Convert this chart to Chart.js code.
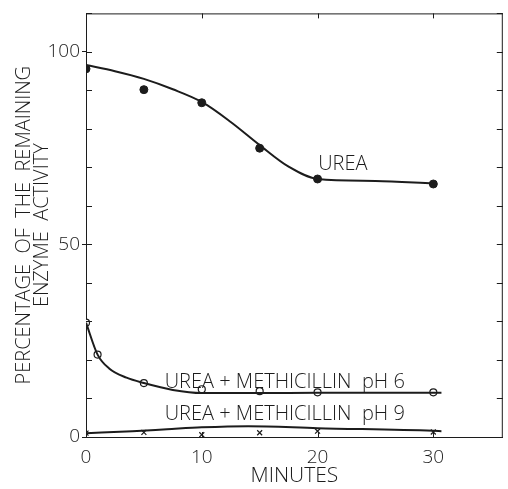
<!DOCTYPE html>
<html>
<head>
<meta charset="utf-8">
<script src="https://cdn.jsdelivr.net/npm/chart.js@4.4.1/dist/chart.umd.min.js"></script>
<style>
  html, body { margin: 0; padding: 0; background: #fff; }
  #wrap { position: relative; width: 508px; height: 489px; }
</style>
</head>
<body>
<div id="wrap"><canvas id="enzymeChart"></canvas></div>
<script>
// measured points
const ureaMin = [0, 5, 10, 15, 20, 30];
const ureaVal = [95.6, 90.2, 86.8, 75, 67, 65.7];
const ph6Min = [0, 1, 5, 10, 15, 20, 30];
const ph6Val = [29.7, 21.4, 14, 12.4, 11.9, 11.6, 11.6];
const ph9Min = [0, 5, 10, 15, 20, 30];
const ph9Val = [1, 1.2, 0.6, 1.1, 1.5, 1.3];

// hand-drawn fitted curves
const ureaCurveMin = [0, 2.5, 5, 7.5, 10, 12.5, 15, 17.5, 20, 25, 30];
const ureaCurveVal = [96.6, 95, 93, 90.3, 87, 81.8, 75.8, 70.2, 67, 66.5, 65.8];
const ph6CurveMin = [0, 1, 2, 3.5, 5, 7.5, 10, 15, 20, 30, 30.7];
const ph6CurveVal = [29.7, 21.4, 17.8, 15.4, 14, 12.2, 11.4, 11.4, 11.5, 11.5, 11.5];
const ph9CurveMin = [0, 4, 7, 10, 14, 20, 30, 30.7];
const ph9CurveVal = [1, 1.5, 2, 2.5, 2.8, 2.3, 1.6, 1.5];

const curveLabels = [
    { text: 'UREA', x: 20.05, y: 70.8 },
    { text: 'UREA + METHICILLIN  pH 6', x: 6.8, y: 14.2 },
    { text: 'UREA + METHICILLIN  pH 9', x: 6.8, y: 5.9 }
];

const INK = '#1c1c1c';
const FONT = "'Open Sans', 'DejaVu Sans', sans-serif";

const pts = (xs, ys) => xs.map((x, i) => ({ x, y: ys[i] }));

// inward ticks, top/right frame and the curve labels
const framePlugin = {
    id: 'frame',
    afterDraw(chart) {
        const { ctx, chartArea: a, scales: { x, y } } = chart;
        ctx.save();
        ctx.strokeStyle = INK;
        ctx.lineWidth = 1;
        ctx.beginPath();
        ctx.moveTo(a.left, a.top + 0.5);
        ctx.lineTo(a.right, a.top + 0.5);
        ctx.moveTo(a.right - 0.5, a.top);
        ctx.lineTo(a.right - 0.5, a.bottom);
        y.ticks.forEach(t => {
            const py = Math.round(y.getPixelForValue(t.value)) + 0.5;
            ctx.moveTo(a.left, py); ctx.lineTo(a.left + 6, py);
            ctx.moveTo(a.right, py); ctx.lineTo(a.right - 6, py);
        });
        x.ticks.forEach(t => {
            const px = Math.round(x.getPixelForValue(t.value)) + 0.5;
            ctx.moveTo(px, a.bottom); ctx.lineTo(px, a.bottom - 5);
            ctx.moveTo(px, a.top); ctx.lineTo(px, a.top + 5);
        });
        ctx.stroke();

        ctx.fillStyle = INK;
        ctx.font = `300 20px ${FONT}`;
        ctx.textBaseline = 'middle';
        ctx.textAlign = 'left';
        curveLabels.forEach(l => {
            ctx.fillText(l.text, x.getPixelForValue(l.x), y.getPixelForValue(l.y));
        });
        ctx.restore();
    }
};

const curve = (data) => ({
    data,
    showLine: true,
    borderColor: INK,
    borderWidth: 2,
    pointRadius: 0,
    cubicInterpolationMode: 'monotone'
});

new Chart(document.getElementById('enzymeChart'), {
    type: 'scatter',
    data: {
        datasets: [
            curve(pts(ureaCurveMin, ureaCurveVal)),
            curve(pts(ph6CurveMin, ph6CurveVal)),
            curve(pts(ph9CurveMin, ph9CurveVal)),
            {
                data: pts(ureaMin, ureaVal),
                pointRadius: 4,
                pointBackgroundColor: INK,
                pointBorderColor: INK
            },
            {
                data: pts(ph6Min, ph6Val),
                pointRadius: 3.5,
                pointBorderWidth: 1.2,
                pointBackgroundColor: '#fff',
                pointBorderColor: INK
            },
            {
                data: pts(ph9Min, ph9Val),
                pointStyle: 'crossRot',
                pointRadius: 3.5,
                pointBorderWidth: 1.2,
                pointBorderColor: INK
            }
        ]
    },
    options: {
        responsive: true,
        maintainAspectRatio: false,
        animation: false,
        layout: { padding: { top: 10, right: 1, left: 0, bottom: 0 } },
        scales: {
            x: {
                type: 'linear',
                min: 0,
                max: 36,
                afterFit: s => { s.height = 52; },
                border: { color: INK, width: 1 },
                grid: { drawOnChartArea: false, drawTicks: false },
                ticks: {
                    stepSize: 10,
                    includeBounds: false,
                    padding: 9,
                    color: INK,
                    font: { family: FONT, size: 19, weight: 300 }
                },
                title: {
                    display: true,
                    text: 'MINUTES',
                    color: INK,
                    padding: { top: 0, bottom: 2 },
                    font: { family: FONT, size: 21, weight: 300, lineHeight: 1 }
                }
            },
            y: {
                min: 0,
                max: 110,
                afterFit: s => { s.width = 86; },
                border: { color: INK, width: 1 },
                grid: {
                    drawOnChartArea: false,
                    tickLength: 4,
                    color: c => (c.tick && c.tick.value % 50 === 0) ? INK : 'rgba(0,0,0,0)'
                },
                ticks: {
                    stepSize: 10,
                    padding: 2,
                    color: INK,
                    font: { family: FONT, size: 19, weight: 300 },
                    callback: v => (v % 50 === 0 ? v : '')
                },
                title: {
                    display: true,
                    text: ['PERCENTAGE  OF  THE  REMAINING', 'ENZYME  ACTIVITY'],
                    color: INK,
                    padding: { top: 15, bottom: 0 },
                    font: { family: FONT, size: 20, weight: 300, lineHeight: 0.9 }
                }
            }
        },
        plugins: {
            legend: { display: false },
            tooltip: { enabled: false }
        }
    },
    plugins: [framePlugin]
});
</script>
</body>
</html>
